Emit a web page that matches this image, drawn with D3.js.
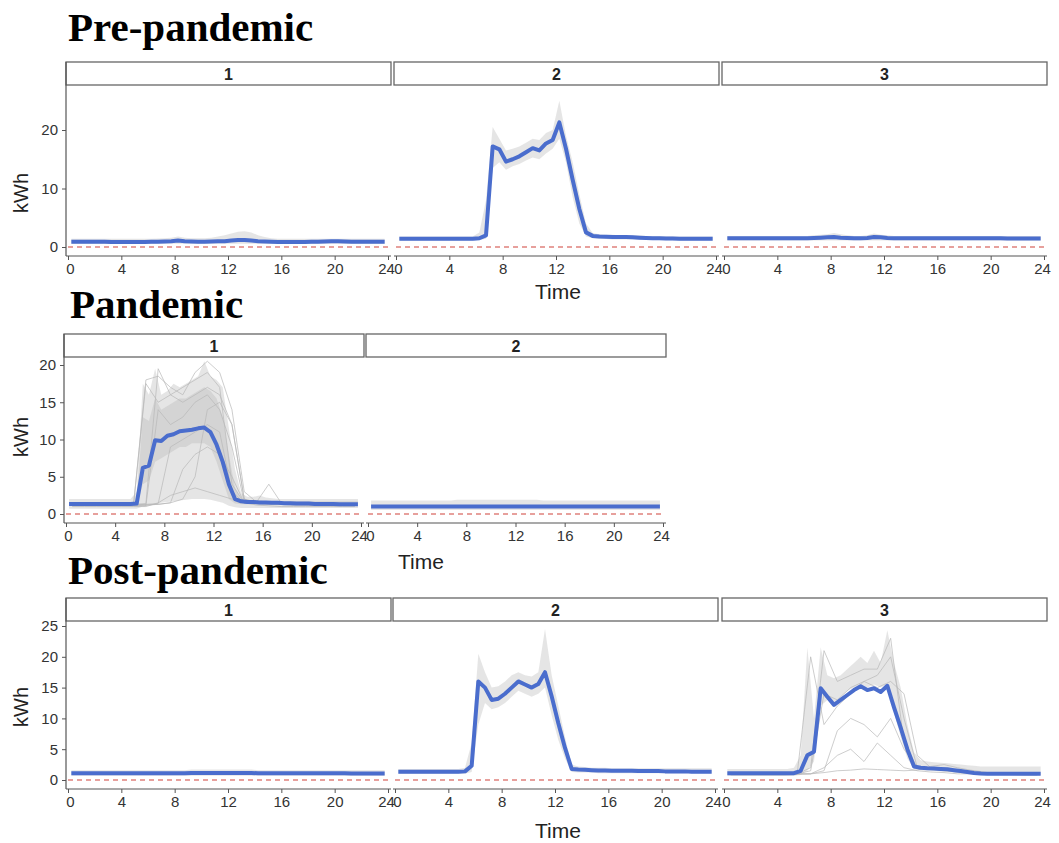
<!DOCTYPE html>
<html>
<head>
<meta charset="utf-8">
<script src="https://cdn.jsdelivr.net/npm/d3@7"></script>
<style>
  body { margin: 0; background: #fff; }
  text { font-family: "Liberation Sans", Arial, sans-serif; }
  .title { font-family: "Liberation Serif", "Times New Roman", serif; font-weight: bold; font-size: 41px; fill: #000; }
  .tick text { font-size: 15px; fill: #333; }
  .tick line { stroke: #555; }
</style>
</head>
<body>
<svg id="chart" width="1059" height="843"></svg>
<script>
// Daily load profiles (kWh) by cluster, three periods
var svgWidth = 1059;
var svgHeight = 843;

// x values: half-hour slots for the cluster means and bundles, hourly for single days
var halfHours = [0.25,0.75,1.25,1.75,2.25,2.75,3.25,3.75,4.25,4.75,5.25,5.75,6.25,6.75,7.25,7.75,
  8.25,8.75,9.25,9.75,10.25,10.75,11.25,11.75,12.25,12.75,13.25,13.75,14.25,14.75,15.25,15.75,
  16.25,16.75,17.25,17.75,18.25,18.75,19.25,19.75,20.25,20.75,21.25,21.75,22.25,22.75,23.25,23.75];
var hours = [0.5,1.5,2.5,3.5,4.5,5.5,6.5,7.5,8.5,9.5,10.5,11.5,12.5,13.5,14.5,15.5,16.5,17.5,18.5,19.5,20.5,21.5,22.5,23.5];

var xTicks = [0, 4, 8, 12, 16, 20, 24];
var preTicksY = [0, 10, 20];
var pandemicTicksY = [0, 5, 10, 15, 20];
var postTicksY = [0, 5, 10, 15, 20, 25];

// ---- Pre-pandemic ----
var preMean1 = [0.9,0.9,0.9,0.9,0.9,0.9,0.85,0.85,0.85,0.85,0.85,0.85,0.9,0.9,0.95,1.0,
  1.1,1.0,0.95,0.9,0.9,0.95,1.0,1.0,1.1,1.2,1.2,1.1,1.0,0.95,0.9,0.85,
  0.85,0.85,0.85,0.85,0.9,0.9,0.95,1.0,1.0,0.95,0.9,0.9,0.9,0.9,0.9,0.9];
var preLo1 = [0.55,0.55,0.55,0.55,0.55,0.55,0.55,0.55,0.55,0.55,0.55,0.55,0.55,0.55,0.55,0.55,
  0.55,0.55,0.55,0.55,0.55,0.55,0.55,0.55,0.55,0.55,0.55,0.55,0.55,0.55,0.55,0.55,
  0.55,0.55,0.55,0.55,0.55,0.55,0.55,0.55,0.55,0.55,0.55,0.55,0.55,0.55,0.55,0.55];
var preHi1 = [1.4,1.4,1.4,1.4,1.4,1.4,1.4,1.4,1.4,1.4,1.4,1.4,1.4,1.45,1.5,1.6,
  1.8,1.6,1.5,1.5,1.5,1.6,1.8,2.0,2.3,2.6,2.7,2.5,2.0,1.7,1.5,1.4,
  1.4,1.4,1.4,1.4,1.4,1.4,1.4,1.4,1.4,1.4,1.4,1.4,1.4,1.4,1.4,1.4];

var preMean2 = [1.4,1.4,1.4,1.4,1.4,1.4,1.4,1.4,1.4,1.4,1.4,1.4,1.5,2.0,17.2,16.7,
  14.6,15.0,15.5,16.2,16.9,16.5,17.7,18.3,21.3,16.8,11.5,6.5,2.5,1.9,1.8,1.75,
  1.7,1.7,1.7,1.65,1.6,1.55,1.5,1.5,1.45,1.45,1.4,1.4,1.4,1.4,1.4,1.4];
var preLo2 = [1.1,1.1,1.1,1.1,1.1,1.1,1.1,1.1,1.1,1.1,1.1,1.1,1.2,1.4,13.5,14.5,
  13.2,13.8,14.2,14.8,15.3,15.0,16.0,16.8,18.5,14.5,8.5,4.0,1.8,1.5,1.4,1.35,
  1.3,1.3,1.3,1.3,1.25,1.2,1.2,1.2,1.15,1.15,1.1,1.1,1.1,1.1,1.1,1.1];
var preHi2 = [1.8,1.8,1.8,1.8,1.8,1.8,1.8,1.8,1.8,1.8,1.8,1.8,2.5,8.0,20.5,18.5,
  16.5,16.8,17.2,17.8,18.5,18.3,19.5,20.0,25.0,19.0,14.5,9.0,4.0,2.4,2.2,2.1,
  2.1,2.0,2.0,2.0,2.0,1.9,1.9,1.9,1.85,1.85,1.8,1.8,1.8,1.8,1.8,1.8];

var preMean3 = [1.5,1.5,1.5,1.5,1.5,1.5,1.5,1.5,1.5,1.5,1.5,1.5,1.5,1.55,1.6,1.65,
  1.7,1.6,1.55,1.5,1.5,1.55,1.7,1.65,1.55,1.5,1.5,1.5,1.5,1.5,1.5,1.5,
  1.5,1.5,1.5,1.5,1.5,1.5,1.5,1.5,1.5,1.5,1.45,1.45,1.45,1.45,1.45,1.45];
var preLo3 = [1.1,1.1,1.1,1.1,1.1,1.1,1.1,1.1,1.1,1.1,1.1,1.1,1.1,1.1,1.1,1.1,
  1.1,1.1,1.1,1.1,1.1,1.1,1.1,1.1,1.1,1.1,1.1,1.1,1.1,1.1,1.1,1.1,
  1.1,1.1,1.1,1.1,1.1,1.1,1.1,1.1,1.1,1.1,1.1,1.1,1.1,1.1,1.1,1.1];
var preHi3 = [1.9,1.9,1.9,1.9,1.9,1.9,1.9,1.9,1.9,1.9,1.9,1.9,1.9,2.0,2.1,2.2,
  2.4,2.2,2.0,1.9,1.9,2.0,2.3,2.1,2.0,1.9,1.9,1.9,1.9,1.9,1.9,1.9,
  1.9,1.9,1.9,1.9,1.9,1.9,1.9,1.9,1.9,1.9,1.9,1.9,1.9,1.9,1.9,1.9];

// ---- Pandemic ----
var panMean1 = [1.35,1.35,1.35,1.35,1.35,1.35,1.35,1.35,1.35,1.35,1.35,1.4,6.2,6.5,9.9,9.8,
  10.5,10.7,11.1,11.2,11.3,11.5,11.6,11.0,9.3,7.0,4.0,2.0,1.7,1.6,1.6,1.55,
  1.55,1.5,1.5,1.45,1.45,1.4,1.4,1.4,1.35,1.35,1.35,1.35,1.3,1.3,1.3,1.3];
var panLo1 = [0.7,0.7,0.7,0.7,0.7,0.7,0.7,0.7,0.7,0.7,0.7,0.7,1.0,1.1,1.3,1.5,
  1.6,1.7,1.8,1.9,2.0,2.0,2.0,1.9,1.7,1.5,1.1,0.9,0.8,0.8,0.8,0.8,
  0.8,0.8,0.8,0.8,0.8,0.8,0.8,0.8,0.8,0.8,0.8,0.8,0.8,0.8,0.8,0.8];
var panHi1 = [2.0,2.0,2.0,2.0,2.0,2.0,2.0,2.0,2.0,2.0,2.0,3.0,17.5,16.0,19.5,16.0,
  16.5,17.5,17.0,17.5,18.0,18.5,20.5,18.5,18.0,17.0,11.5,6.0,2.8,2.3,2.3,2.5,
  2.2,2.1,2.0,2.0,2.0,2.0,2.0,2.0,2.0,2.0,2.0,2.0,2.0,2.0,2.0,2.0];
var panCoreLo1 = [1.1,1.1,1.1,1.1,1.1,1.1,1.1,1.1,1.1,1.1,1.1,1.1,4.0,4.5,7.0,7.5,
  8.0,8.5,9.0,9.0,9.5,9.5,9.5,9.0,7.0,4.5,2.0,1.4,1.3,1.3,1.3,1.3,
  1.3,1.3,1.3,1.3,1.3,1.3,1.3,1.3,1.3,1.3,1.3,1.3,1.3,1.3,1.3,1.3];
var panCoreHi1 = [1.6,1.6,1.6,1.6,1.6,1.6,1.6,1.6,1.6,1.6,1.6,1.6,13.0,12.5,15.5,14.0,
  14.5,15.0,15.5,15.5,16.0,16.5,17.0,16.5,15.5,13.0,8.0,3.5,2.0,1.8,1.8,1.8,
  1.7,1.7,1.7,1.7,1.7,1.7,1.7,1.7,1.7,1.7,1.7,1.7,1.7,1.7,1.7,1.7];
var panDays1 = [
  [1.2,1.2,1.2,1.2,1.2,1.3,17.5,15,16,17,18,19,17,4,1.5,1.5,1.5,1.4,1.3,1.3,1.2,1.2,1.2,1.2],
  [1.3,1.3,1.3,1.3,1.3,1.3,1.4,19.5,16,15,16,17,16,12,2,1.6,1.5,1.4,1.4,1.3,1.3,1.3,1.3,1.3],
  [1.2,1.2,1.2,1.2,1.2,1.2,1.3,1.4,9,10,11,12,11,3,1.5,1.5,1.4,1.4,1.3,1.3,1.2,1.2,1.2,1.2],
  [1.0,1.0,1.0,1.0,1.0,1.0,1.0,1.5,2.5,3.0,3.5,3.0,2.5,2.0,1.5,1.2,1.1,1.0,1.0,1.0,1.0,1.0,1.0,1.0],
  [1.3,1.3,1.3,1.3,1.3,1.3,18,18.5,17,16,19,20.5,19,14,3,1.6,4,1.5,1.4,1.3,1.3,1.3,1.3,1.3],
  [1.2,1.2,1.2,1.2,1.2,1.2,1.2,1.3,1.5,6,8,9,8,5,1.5,1.4,1.3,1.3,1.2,1.2,1.2,1.2,1.2,1.2],
  [1.1,1.1,1.1,1.1,1.1,1.1,1.1,14,12,13,15,16,14,9,1.6,1.4,1.3,1.3,1.2,1.2,1.1,1.1,1.1,1.1],
  [1.2,1.2,1.2,1.2,1.2,1.2,1.2,1.3,1.5,2,5,14,15,12,2,1.5,1.4,1.3,1.3,1.2,1.2,1.2,1.2,1.2]
];

var panMean2 = [1.0,1.0,1.0,1.0,1.0,1.0,1.0,1.0,1.0,1.0,1.0,1.0,1.0,1.0,1.0,1.0,
  1.0,1.0,1.0,1.0,1.0,1.0,1.0,1.0,1.0,1.0,1.0,1.0,1.0,1.0,1.0,1.0,
  1.0,1.0,1.0,1.0,1.0,1.0,1.0,1.0,1.0,1.0,1.0,1.0,1.0,1.0,1.0,1.0];
var panLo2 = [0.55,0.55,0.55,0.55,0.55,0.55,0.55,0.55,0.55,0.55,0.55,0.55,0.55,0.55,0.55,0.55,
  0.55,0.55,0.55,0.55,0.55,0.55,0.55,0.55,0.55,0.55,0.55,0.55,0.55,0.55,0.55,0.55,
  0.55,0.55,0.55,0.55,0.55,0.55,0.55,0.55,0.55,0.55,0.55,0.55,0.55,0.55,0.55,0.55];
var panHi2 = [1.8,1.8,1.8,1.8,1.8,1.8,1.8,1.8,1.8,1.8,1.8,1.8,1.8,1.8,1.9,1.9,
  1.9,1.9,1.9,1.9,1.9,1.9,1.9,1.9,1.9,1.9,1.9,1.9,1.8,1.8,1.8,1.8,
  1.8,1.8,1.8,1.8,1.8,1.8,1.8,1.8,1.8,1.8,1.8,1.8,1.8,1.8,1.8,1.8];

// ---- Post-pandemic ----
var postMean1 = [1.1,1.1,1.1,1.1,1.1,1.1,1.1,1.1,1.1,1.1,1.1,1.1,1.1,1.1,1.1,1.1,
  1.1,1.1,1.15,1.15,1.15,1.15,1.15,1.15,1.15,1.15,1.15,1.15,1.1,1.1,1.1,1.1,
  1.1,1.1,1.1,1.1,1.1,1.1,1.1,1.1,1.1,1.1,1.05,1.05,1.05,1.05,1.05,1.05];
var postLo1 = [0.7,0.7,0.7,0.7,0.7,0.7,0.7,0.7,0.7,0.7,0.7,0.7,0.7,0.7,0.7,0.7,
  0.7,0.7,0.7,0.7,0.7,0.7,0.7,0.7,0.7,0.7,0.7,0.7,0.7,0.7,0.7,0.7,
  0.7,0.7,0.7,0.7,0.7,0.7,0.7,0.7,0.7,0.7,0.7,0.7,0.7,0.7,0.7,0.7];
var postHi1 = [1.6,1.6,1.6,1.6,1.6,1.6,1.6,1.6,1.6,1.6,1.6,1.6,1.6,1.6,1.6,1.6,
  1.6,1.6,1.7,1.7,1.7,1.7,1.7,1.7,1.7,1.7,1.7,1.7,1.6,1.6,1.6,1.6,
  1.6,1.6,1.6,1.6,1.6,1.6,1.6,1.6,1.6,1.6,1.6,1.6,1.6,1.6,1.6,1.6];

var postMean2 = [1.35,1.35,1.35,1.35,1.35,1.35,1.35,1.35,1.35,1.35,1.4,2.3,16.0,15.0,13.0,13.2,
  14.0,15.0,16.0,15.5,15.0,15.6,17.5,13.6,9.2,5.2,1.8,1.7,1.65,1.6,1.55,1.55,
  1.5,1.5,1.5,1.5,1.45,1.45,1.45,1.45,1.4,1.4,1.4,1.4,1.35,1.35,1.35,1.35];
var postLo2 = [1.0,1.0,1.0,1.0,1.0,1.0,1.0,1.0,1.0,1.0,1.0,1.3,9.0,12.5,11.5,11.8,
  12.5,13.5,14.5,14.0,13.5,14.0,15.0,10.5,6.5,3.5,1.3,1.2,1.2,1.2,1.1,1.1,
  1.1,1.1,1.1,1.1,1.1,1.1,1.1,1.1,1.1,1.1,1.1,1.1,1.1,1.1,1.1,1.1];
var postHi2 = [1.8,1.8,1.8,1.8,1.8,1.8,1.8,1.8,1.8,1.8,2.0,6.0,20.5,17.5,15.0,15.2,
  16.0,17.0,17.5,17.0,16.8,17.5,24.5,17.0,12.0,7.0,2.5,2.2,2.1,2.0,2.0,2.0,
  1.9,1.9,1.9,1.9,1.9,1.9,1.9,1.9,1.9,1.9,1.9,1.9,1.9,1.9,1.9,1.9];

var postMean3 = [1.1,1.1,1.1,1.1,1.1,1.1,1.1,1.1,1.1,1.1,1.1,1.5,4.0,4.6,14.9,13.5,
  12.2,13.0,13.8,14.6,15.2,14.6,14.9,14.3,15.3,11.8,8.5,5.0,2.2,2.0,1.9,1.85,
  1.8,1.75,1.6,1.45,1.3,1.15,1.05,1.0,1.0,1.0,1.0,1.0,1.0,1.0,1.0,1.0];
var postLo3 = [0.7,0.7,0.7,0.7,0.7,0.7,0.7,0.7,0.7,0.7,0.7,0.8,1.5,3.0,12.0,13.0,
  12.5,13.5,14.5,15.0,15.5,15.0,15.5,15.0,15.5,11.0,7.0,3.5,1.8,1.6,1.5,1.5,
  1.4,1.3,1.2,1.1,1.0,0.9,0.8,0.8,0.8,0.8,0.8,0.8,0.8,0.8,0.8,0.8];
var postHi3 = [1.8,1.8,1.8,1.8,1.8,1.8,1.8,1.8,1.8,1.8,2.0,4.0,21.5,10.0,21.5,17.0,
  16.5,17.0,18.0,19.0,20.0,19.0,21.0,19.0,24.3,19.0,15.0,9.0,4.5,3.2,3.0,2.9,
  2.8,2.7,2.6,2.5,2.4,2.3,2.2,2.2,2.2,2.2,2.2,2.2,2.2,2.2,2.2,2.2];
var postDays3 = [
  [1.0,1.0,1.0,1.0,1.0,1.2,20,9,12,14,16,17,20,10,2.0,1.8,1.7,1.5,1.3,1.2,1.0,1.0,1.0,1.0],
  [1.0,1.0,1.0,1.0,1.0,1.0,2.0,21,16,17,18,18,23,6,2,1.8,1.6,1.4,1.2,1.0,1.0,1.0,1.0,1.0],
  [1.0,1.0,1.0,1.0,1.0,1.0,1.0,2.0,4.0,5.0,3.0,6.0,4.0,2.0,1.5,1.3,1.2,1.0,1.0,1.0,1.0,1.0,1.0,1.0],
  [1.0,1.0,1.0,1.0,1.0,1.0,1.5,14,13,15,16,15,16,14,4,2,1.8,1.5,1.2,1.0,1.0,1.0,1.0,1.0],
  [1.0,1.0,1.0,1.0,1.0,1.0,1.0,1.5,8,10,9,7,10,5,2,1.7,1.5,1.3,1.1,1.0,1.0,1.0,1.0,1.0],
  [0.8,0.8,0.8,0.8,0.8,0.9,1.0,1.2,1.5,1.6,1.8,1.7,1.6,1.5,1.6,2.2,2.5,2.0,1.6,1.3,1.0,0.9,0.8,0.8]
];

// layout of the three rows of small multiples
var rows = [
  { title: "Pre-pandemic", titleX: 68, titleY: 41, stripTop: 62, axisY: 256,
    y0px: 247, yRefVal: 20, yRefPx: 130, ticksY: preTicksY,
    lefts: [66, 394, 722], width: 325, timeX: 558, timeY: 299, kwhY: 193,
    panels: [
      { label: "1", mean: preMean1, lo: preLo1, hi: preHi1, days: [] },
      { label: "2", mean: preMean2, lo: preLo2, hi: preHi2, days: [] },
      { label: "3", mean: preMean3, lo: preLo3, hi: preHi3, days: [] }
    ] },
  { title: "Pandemic", titleX: 70, titleY: 318, stripTop: 334, axisY: 523,
    y0px: 514, yRefVal: 20, yRefPx: 365, ticksY: pandemicTicksY,
    lefts: [64, 366], width: 300, timeX: 421, timeY: 569, kwhY: 437,
    panels: [
      { label: "1", mean: panMean1, lo: panLo1, hi: panHi1, coreLo: panCoreLo1, coreHi: panCoreHi1, days: panDays1 },
      { label: "2", mean: panMean2, lo: panLo2, hi: panHi2, days: [] }
    ] },
  { title: "Post-pandemic", titleX: 68, titleY: 584, stripTop: 598, axisY: 789,
    y0px: 780, yRefVal: 25, yRefPx: 626, ticksY: postTicksY,
    lefts: [66, 393, 722], width: 325, timeX: 558, timeY: 838, kwhY: 707,
    panels: [
      { label: "1", mean: postMean1, lo: postLo1, hi: postHi1, days: [] },
      { label: "2", mean: postMean2, lo: postLo2, hi: postHi2, days: [] },
      { label: "3", mean: postMean3, lo: postLo3, hi: postHi3, days: postDays3 }
    ] }
];

var stripH = 23;
var svg = d3.select("#chart")
    .attr("width", svgWidth)
    .attr("height", svgHeight);

rows.forEach(function(row) {
    svg.append("text")
        .attr("class", "title")
        .attr("x", row.titleX)
        .attr("y", row.titleY)
        .text(row.title);

    var yScale = d3.scaleLinear()
        .domain([0, row.yRefVal])
        .range([row.y0px, row.yRefPx]);

    row.panels.forEach(function(p, k) {
        var left = row.lefts[k];
        var xScale = d3.scaleLinear()
            .domain([0, 24])
            .range([left + 2, left + row.width - 3]);

        var g = svg.append("g");

        // strip header
        g.append("rect")
            .attr("x", left)
            .attr("y", row.stripTop)
            .attr("width", row.width)
            .attr("height", stripH)
            .attr("fill", "#fff")
            .attr("stroke", "#666")
            .attr("stroke-width", 1.3);
        g.append("text")
            .attr("x", left + row.width / 2)
            .attr("y", row.stripTop + stripH / 2 + 6)
            .attr("text-anchor", "middle")
            .attr("font-weight", "bold")
            .attr("font-size", "16px")
            .attr("fill", "#222")
            .text(p.label);

        // bundle of individual days
        var band = d3.area()
            .x(function(d, i) { return xScale(halfHours[i]); })
            .y0(function(d, i) { return yScale(p.lo[i]); })
            .y1(function(d, i) { return yScale(p.hi[i]); });
        g.append("path")
            .datum(p.mean)
            .attr("d", band)
            .attr("fill", "#cfcfcf")
            .attr("opacity", 0.55);

        if (p.coreLo) {
            var core = d3.area()
                .x(function(d, i) { return xScale(halfHours[i]); })
                .y0(function(d, i) { return yScale(p.coreLo[i]); })
                .y1(function(d, i) { return yScale(p.coreHi[i]); });
            g.append("path")
                .datum(p.mean)
                .attr("d", core)
                .attr("fill", "#c4c4c4")
                .attr("opacity", 0.5);
        }

        var dayLine = d3.line()
            .x(function(d, i) { return xScale(hours[i]); })
            .y(function(d) { return yScale(d); });
        g.selectAll(".day")
            .data(p.days)
            .enter()
            .append("path")
            .attr("class", "day")
            .attr("d", dayLine)
            .attr("fill", "none")
            .attr("stroke", "#b8b8b8")
            .attr("stroke-width", 1)
            .attr("opacity", 0.7);

        // zero reference
        g.append("line")
            .attr("x1", xScale(0))
            .attr("x2", xScale(24))
            .attr("y1", yScale(0))
            .attr("y2", yScale(0))
            .attr("stroke", "#d0423a")
            .attr("stroke-width", 1.2)
            .attr("stroke-dasharray", "5,4");

        // cluster mean
        var meanLine = d3.line()
            .x(function(d, i) { return xScale(halfHours[i]); })
            .y(function(d) { return yScale(d); });
        g.append("path")
            .datum(p.mean)
            .attr("d", meanLine)
            .attr("fill", "none")
            .attr("stroke", "#4a6dcd")
            .attr("stroke-width", 4)
            .attr("stroke-linejoin", "round");

        // x axis
        var xAxis = g.append("g")
            .attr("transform", "translate(0," + row.axisY + ")")
            .call(d3.axisBottom(xScale).tickValues(xTicks).tickSize(4).tickPadding(3));
        xAxis.select(".domain").remove();
        // the end labels of neighbouring panels sit close together
        xAxis.selectAll(".tick text")
            .attr("dx", function(d) { return d === 0 ? 2 : (d === 24 ? -2 : 0); });
        g.append("line")
            .attr("x1", left)
            .attr("x2", left + row.width)
            .attr("y1", row.axisY)
            .attr("y2", row.axisY)
            .attr("stroke", "#555")
            .attr("stroke-width", 1.2);

        if (k === 0) {
            var yAxis = g.append("g")
                .attr("transform", "translate(" + left + ",0)")
                .call(d3.axisLeft(yScale).tickValues(row.ticksY).tickSize(4).tickPadding(4));
            yAxis.select(".domain").remove();
            g.append("line")
                .attr("x1", left)
                .attr("x2", left)
                .attr("y1", row.stripTop)
                .attr("y2", row.axisY)
                .attr("stroke", "#555")
                .attr("stroke-width", 1.2);
        }
    });

    svg.append("text")
        .attr("transform", "translate(28," + row.kwhY + ") rotate(-90)")
        .attr("text-anchor", "middle")
        .attr("font-size", "20px")
        .attr("fill", "#222")
        .text("kWh");

    svg.append("text")
        .attr("x", row.timeX)
        .attr("y", row.timeY)
        .attr("text-anchor", "middle")
        .attr("font-size", "21px")
        .attr("fill", "#222")
        .text("Time");
});
</script>
</body>
</html>
